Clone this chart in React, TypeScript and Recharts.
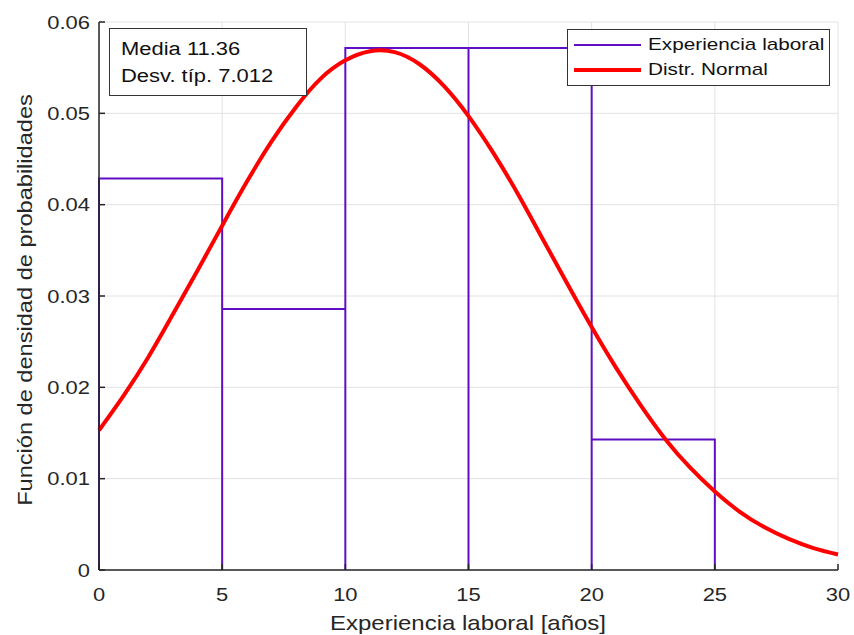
import { CartesianGrid, ComposedChart, Line, XAxis, YAxis } from "recharts";

// histograma: bordes de clase y densidad de cada clase
const binEdges = [0, 5, 10, 15, 20, 25];
const binDensity = [0.04286, 0.02857, 0.05714, 0.05714, 0.01429];

// curva normal (x = 0..30)
const normalX = [
  0, 1, 2, 3, 4, 5, 6, 7, 8, 9, 10, 11, 12, 13, 14, 15, 16, 17, 18, 19, 20,
  21, 22, 23, 24, 25, 26, 27, 28, 29, 30,
];
const normalY = [
  0.0153, 0.0191, 0.0233, 0.028, 0.0328, 0.0377, 0.0425, 0.0469, 0.0507,
  0.0538, 0.0558, 0.0568, 0.0567, 0.0554, 0.053, 0.0497, 0.0457, 0.0412,
  0.0363, 0.0314, 0.0266, 0.0221, 0.018, 0.0143, 0.0112, 0.0086, 0.0064,
  0.0047, 0.0034, 0.0024, 0.0017,
];

const xTicks = [0, 5, 10, 15, 20, 25, 30];
const yTicks = [0, 0.01, 0.02, 0.03, 0.04, 0.05, 0.06];

const stats = ["Media 11.36", "Desv. típ. 7.012"];
const seriesNames = ["Experiencia laboral", "Distr. Normal"];

const FONT = "'Liberation Sans', Arial, Helvetica, sans-serif";
const AXIS = "#262626";
const PURPLE = "#5e0fc4";
const RED = "#ff0000";
const SX = 1.22; // el original tiene el texto más ancho
const TICK = 6;

// contorno de cada barra como una polilínea
const histPoints: { x: number; y: number }[] = [];
binDensity.forEach((h, i) => {
  const a = binEdges[i];
  const b = binEdges[i + 1];
  histPoints.push({ x: a, y: 0 }, { x: a, y: h }, { x: b, y: h }, { x: b, y: 0 });
});

const normalPoints = normalX.map((x, i) => ({ x, y: normalY[i] }));

const fmtY = (v: number) => (v === 0 ? "0" : v.toFixed(2));

function BottomTick(props: any) {
  const { x, y, payload } = props;
  return (
    <g>
      <line x1={x} x2={x} y1={y} y2={y - TICK} stroke={AXIS} strokeWidth={1.5} />
      <text
        transform={`translate(${x},${y + 31}) scale(${SX},1)`}
        textAnchor="middle"
        fill={AXIS}
        fontSize={18}
        fontFamily={FONT}
      >
        {payload.value}
      </text>
    </g>
  );
}

function LeftTick(props: any) {
  const { x, y, payload } = props;
  return (
    <g>
      <line x1={x} x2={x + TICK} y1={y} y2={y} stroke={AXIS} strokeWidth={1.5} />
      <text
        transform={`translate(${x - 9},${y + 6.5}) scale(${SX},1)`}
        textAnchor="end"
        fill={AXIS}
        fontSize={18}
        fontFamily={FONT}
      >
        {fmtY(payload.value)}
      </text>
    </g>
  );
}

function TopTick(props: any) {
  const { x, y } = props;
  return <line x1={x} x2={x} y1={y} y2={y + TICK} stroke={AXIS} strokeWidth={1.5} />;
}

function RightTick(props: any) {
  const { x, y } = props;
  return <line x1={x} x2={x - TICK} y1={y} y2={y} stroke={AXIS} strokeWidth={1.5} />;
}

const overlayText = {
  display: "inline-block",
  transform: `scaleX(${SX})`,
  transformOrigin: "left center",
  whiteSpace: "nowrap" as const,
};

function LegendBox() {
  return (
    <div
      style={{
        position: "absolute",
        left: 567,
        top: 29,
        width: 263,
        height: 57,
        border: "1px solid #333",
        background: "#fff",
        fontFamily: FONT,
        fontSize: 17,
        color: "#111",
        boxSizing: "border-box",
        padding: "2px 0 0 6px",
      }}
    >
      {seriesNames.map((name, i) => (
        <div key={name} style={{ display: "flex", alignItems: "center", height: 25 }}>
          <div
            style={{
              width: 67,
              height: i === 0 ? 2 : 4,
              background: i === 0 ? PURPLE : RED,
              marginRight: 7,
              flex: "none",
            }}
          />
          <span style={overlayText}>{name}</span>
        </div>
      ))}
    </div>
  );
}

function StatsBox() {
  return (
    <div
      style={{
        position: "absolute",
        left: 109,
        top: 28,
        width: 198,
        height: 68,
        border: "1px solid #333",
        background: "#fff",
        boxSizing: "border-box",
        fontFamily: FONT,
        fontSize: 18,
        color: "#111",
        padding: "7px 0 0 11px",
        lineHeight: "27px",
      }}
    >
      {stats.map((s) => (
        <div key={s}>
          <span style={overlayText}>{s}</span>
        </div>
      ))}
    </div>
  );
}

export default function App() {
  return (
    <div style={{ position: "absolute", left: 0, top: 0, width: 854, height: 635, background: "#fff" }}>
      <ComposedChart
        width={854}
        height={635}
        margin={{ top: 22, right: 16, left: 0, bottom: 0 }}
      >
        <CartesianGrid xAxisId="bottom" yAxisId="left" stroke="#e2e2e2" strokeWidth={1} />
        <XAxis
          xAxisId="bottom"
          dataKey="x"
          type="number"
          domain={[0, 30]}
          ticks={xTicks}
          height={65}
          stroke={AXIS}
          strokeWidth={1.5}
          tickLine={false}
          tickSize={0}
          tickMargin={0}
          tick={<BottomTick />}
          label={{
            content: () => (
              <text
                transform={`translate(468,630) scale(1.2,1)`}
                textAnchor="middle"
                fill={AXIS}
                fontSize={20}
                fontFamily={FONT}
              >
                Experiencia laboral [años]
              </text>
            ),
          }}
        />
        <XAxis
          xAxisId="top"
          orientation="top"
          dataKey="x"
          type="number"
          domain={[0, 30]}
          ticks={xTicks}
          height={0}
          stroke={AXIS}
          strokeWidth={1.5}
          tickLine={false}
          tickSize={0}
          tickMargin={0}
          tick={<TopTick />}
        />
        <YAxis
          yAxisId="left"
          type="number"
          domain={[0, 0.06]}
          ticks={yTicks}
          width={99}
          stroke={AXIS}
          strokeWidth={1.5}
          tickLine={false}
          tickSize={0}
          tickMargin={0}
          tick={<LeftTick />}
          label={{
            content: () => (
              <text
                transform={`translate(32,300) rotate(-90) scale(1.18,1)`}
                textAnchor="middle"
                fill={AXIS}
                fontSize={20}
                fontFamily={FONT}
              >
                Función de densidad de probabilidades
              </text>
            ),
          }}
        />
        <YAxis
          yAxisId="right"
          orientation="right"
          type="number"
          domain={[0, 0.06]}
          ticks={yTicks}
          width={0}
          stroke={AXIS}
          strokeWidth={1.5}
          tickLine={false}
          tickSize={0}
          tickMargin={0}
          tick={<RightTick />}
        />
        <Line
          xAxisId="bottom"
          yAxisId="left"
          data={histPoints}
          dataKey="y"
          type="linear"
          stroke={PURPLE}
          strokeWidth={2}
          dot={false}
          activeDot={false}
          isAnimationActive={false}
          name={seriesNames[0]}
        />
        <Line
          xAxisId="bottom"
          yAxisId="left"
          data={normalPoints}
          dataKey="y"
          type="natural"
          stroke={RED}
          strokeWidth={4}
          dot={false}
          activeDot={false}
          isAnimationActive={false}
          name={seriesNames[1]}
        />
        {/* serie invisible para que se dibujen los ejes superior y derecho */}
        <Line
          xAxisId="top"
          yAxisId="right"
          data={normalPoints}
          dataKey="y"
          stroke="none"
          dot={false}
          activeDot={false}
          isAnimationActive={false}
          legendType="none"
        />
      </ComposedChart>
      <StatsBox />
      <LegendBox />
    </div>
  );
}
